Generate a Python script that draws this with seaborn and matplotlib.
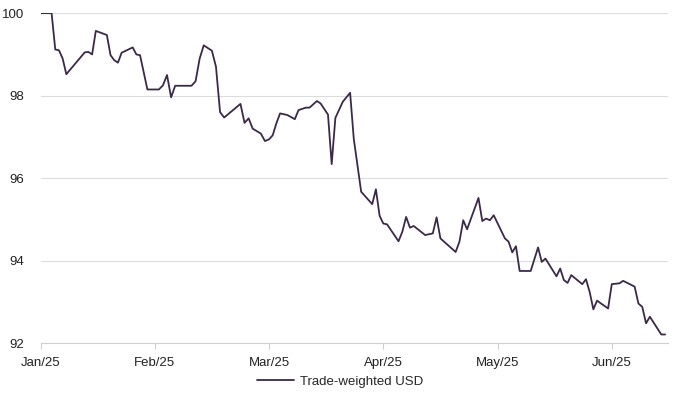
import pandas as pd
import matplotlib
matplotlib.use("Agg")
import matplotlib.pyplot as plt
import seaborn as sns

# Trade-weighted USD index (rebased, 1 Jan 2025 = 100)
dates = [
    "2025-01-01", "2025-01-04", "2025-01-05", "2025-01-06", "2025-01-07", "2025-01-08",
    "2025-01-13", "2025-01-14", "2025-01-15", "2025-01-16", "2025-01-19", "2025-01-20",
    "2025-01-21", "2025-01-22", "2025-01-23", "2025-01-26", "2025-01-27", "2025-01-28",
    "2025-01-30",
    "2025-02-02", "2025-02-03", "2025-02-04", "2025-02-05", "2025-02-06", "2025-02-10",
    "2025-02-11", "2025-02-12", "2025-02-13", "2025-02-15", "2025-02-16", "2025-02-17",
    "2025-02-18", "2025-02-22", "2025-02-23", "2025-02-24", "2025-02-25", "2025-02-27",
    "2025-02-28",
    "2025-03-01", "2025-03-02", "2025-03-03", "2025-03-04", "2025-03-06", "2025-03-08",
    "2025-03-09", "2025-03-11", "2025-03-12", "2025-03-14", "2025-03-15", "2025-03-17",
    "2025-03-18", "2025-03-19", "2025-03-21", "2025-03-23", "2025-03-24", "2025-03-26",
    "2025-03-29", "2025-03-30", "2025-03-31",
    "2025-04-01", "2025-04-02", "2025-04-05", "2025-04-06", "2025-04-07", "2025-04-08",
    "2025-04-09", "2025-04-12", "2025-04-14", "2025-04-15", "2025-04-16", "2025-04-20",
    "2025-04-21", "2025-04-22", "2025-04-23", "2025-04-26", "2025-04-27", "2025-04-28",
    "2025-04-29", "2025-04-30",
    "2025-05-03", "2025-05-04", "2025-05-05", "2025-05-06", "2025-05-07", "2025-05-10",
    "2025-05-12", "2025-05-13", "2025-05-14", "2025-05-17", "2025-05-18", "2025-05-19",
    "2025-05-20", "2025-05-21", "2025-05-24", "2025-05-25", "2025-05-26", "2025-05-27",
    "2025-05-28", "2025-05-31",
    "2025-06-01", "2025-06-03", "2025-06-04", "2025-06-07", "2025-06-08", "2025-06-09",
    "2025-06-10", "2025-06-11", "2025-06-14", "2025-06-15",
]
usd = [
    100.00, 100.00, 99.12, 99.10, 98.90, 98.52,
    99.05, 99.06, 99.00, 99.57, 99.47, 98.98,
    98.86, 98.80, 99.04, 99.17, 99.00, 98.98,
    98.15,
    98.15, 98.25, 98.50, 97.96, 98.24, 98.24,
    98.35, 98.90, 99.22, 99.09, 98.70, 97.60,
    97.47, 97.80, 97.34, 97.45, 97.20, 97.08,
    96.90,
    96.94, 97.04, 97.33, 97.57, 97.53, 97.43,
    97.65, 97.71, 97.71, 97.87, 97.81, 97.54,
    96.34, 97.46, 97.85, 98.07, 96.95, 95.67,
    95.37, 95.73, 95.09,
    94.90, 94.88, 94.47, 94.70, 95.06, 94.80,
    94.84, 94.62, 94.66, 95.05, 94.54, 94.21,
    94.46, 94.98, 94.76, 95.52, 94.96, 95.02,
    94.98, 95.10,
    94.54, 94.46, 94.20, 94.35, 93.75, 93.75,
    94.32, 93.97, 94.05, 93.62, 93.81, 93.53,
    93.46, 93.65, 93.43, 93.55, 93.24, 92.82,
    93.03, 92.84,
    93.43, 93.45, 93.51, 93.37, 92.96, 92.88,
    92.48, 92.64, 92.21, 92.21,
]
month_labels = ["Jan/25", "Feb/25", "Mar/25", "Apr/25", "May/25", "Jun/25"]
y_ticks = [92, 94, 96, 98, 100]

df = pd.DataFrame({"date": pd.to_datetime(dates), "value": usd})
# the source axis spaces every month equally, so place points as month + fraction of month
df["pos"] = (df["date"].dt.month - 1) + (df["date"].dt.day - 1) / df["date"].dt.days_in_month

sns.set_style("white")
plt.rcParams["font.family"] = ["Liberation Sans", "DejaVu Sans"]

fig = plt.figure(figsize=(6.8, 3.99), dpi=100)
ax = fig.add_axes([0.0596, 0.140, 0.9224, 0.827])

sns.lineplot(data=df, x="pos", y="value", ax=ax, color="#3b2949", linewidth=1.3,
             label="Trade-weighted USD", legend=False)

ax.set_xlim(0, 5.49)
ax.set_ylim(92, 100)
ax.set_xticks(range(len(month_labels)))
ax.set_xticklabels(month_labels)
ax.set_yticks(y_ticks)
ax.set_yticklabels([str(t) for t in y_ticks])
ax.set_xlabel("")
ax.set_ylabel("")

ax.grid(axis="y", color="#dcdcdc", linewidth=0.8)
ax.grid(axis="x", visible=False)
ax.set_axisbelow(True)
for side in ["top", "right", "left"]:
    ax.spines[side].set_visible(False)
ax.spines["bottom"].set_color("#cfcfcf")
ax.spines["bottom"].set_linewidth(0.8)

ax.tick_params(axis="x", which="both", bottom=True, length=4, width=0.8, color="#cfcfcf",
               labelsize=9.5, labelcolor="#222222", pad=6)
ax.tick_params(axis="y", left=False, labelsize=9.5, labelcolor="#222222", pad=8)

handles, labels = ax.get_legend_handles_labels()
fig.legend(handles, labels, loc="center", bbox_to_anchor=(0.5, 0.043), frameon=False,
           fontsize=9.5, handlelength=2.8, handletextpad=0.45)

fig.savefig("out.png", dpi=100)
